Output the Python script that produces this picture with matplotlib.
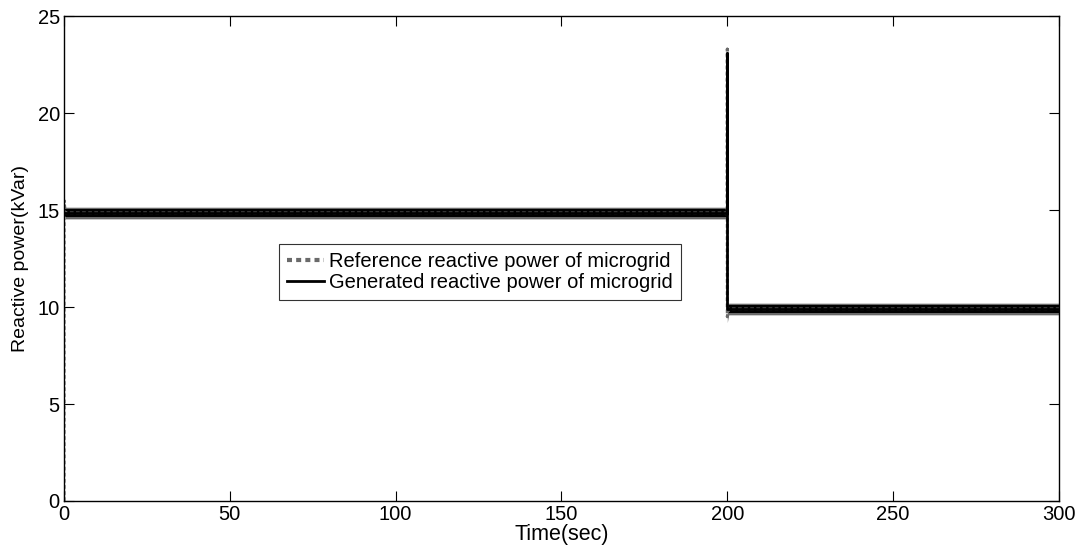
import matplotlib
matplotlib.use("Agg")
import matplotlib.pyplot as plt
from matplotlib.lines import Line2D
import numpy as np

plt.rcParams['font.family'] = ['Liberation Sans', 'DejaVu Sans']

# Reference reactive power of microgrid (kVar)
ref_time = [0, 0, 0.4, 200, 200, 200, 200.4, 300]
ref_q = [0.0, 15.5, 14.85, 14.85, 23.3, 9.5, 9.9, 9.9]
ref_ripple = 0.30

# Generated reactive power of microgrid (kVar)
gen_time = [0, 200, 200, 200, 300]
gen_q = [14.85, 14.85, 23.1, 9.9, 9.9]
gen_ripple = 0.20

xticks = [0, 50, 100, 150, 200, 250, 300]
yticks = [0, 5, 10, 15, 20, 25]

fig = plt.figure(figsize=(10.85, 5.54), dpi=100)
ax = fig.add_axes([0.059, 0.0957, 0.917, 0.875])

rt = np.array(ref_time); rq = np.array(ref_q)
gt = np.array(gen_time); gq = np.array(gen_q)

# ripple bands
ax.fill_between(rt[2:], rq[2:] - ref_ripple, rq[2:] + ref_ripple, color='#6a6a6a', lw=0)
ax.plot(rt, rq, color='#6a6a6a', lw=2.2, ls=(0, (1.2, 0.8)))
ax.fill_between(gt, gq - gen_ripple, gq + gen_ripple, color='black', lw=0)
ax.plot(gt, gq, color='black', lw=2.0)

ax.set_xlim(0, 300)
ax.set_ylim(0, 25)
ax.set_xticks(xticks)
ax.set_yticks(yticks)
ax.tick_params(direction='in', top=True, right=True, length=7.5, width=0.8,
               labelsize=14.5, pad=3)
for s in ax.spines.values():
    s.set_linewidth(1.0)

ax.set_xlabel('Time(sec)', fontsize=15.5, labelpad=0)
ax.set_ylabel('Reactive power(kVar)', fontsize=14, labelpad=6)

handles = [Line2D([], [], color='#6a6a6a', lw=3, ls=(0, (1.2, 1.0))),
           Line2D([], [], color='black', lw=2)]
leg = ax.legend(handles, ['Reference reactive power of microgrid',
                          'Generated reactive power of microgrid'],
                loc='lower left', bbox_to_anchor=(0.216, 0.414), fontsize=14.5,
                frameon=True, fancybox=False, edgecolor='black',
                borderpad=0.4, labelspacing=0.12, handlelength=1.85,
                handletextpad=0.25, borderaxespad=0)
leg.get_frame().set_linewidth(0.8)

fig.savefig('out.png', dpi=100)
